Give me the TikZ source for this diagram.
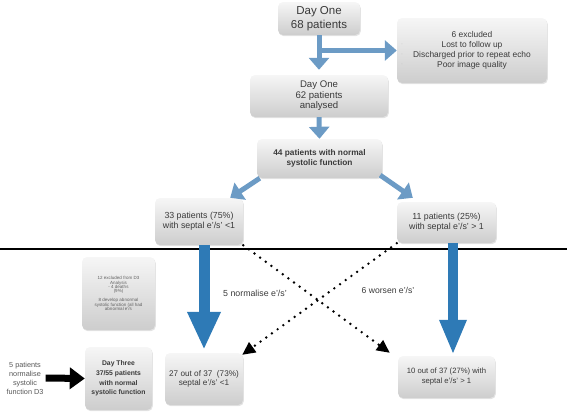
\documentclass[tikz,border=0pt]{standalone}
\usepackage{fontspec}
\setmainfont{Liberation Sans}
\usetikzlibrary{arrows.meta,shadows}
\definecolor{boxtop}{RGB}{246,246,246}
\definecolor{boxbot}{RGB}{205,205,205}
\definecolor{txtgray}{RGB}{58,58,58}
\definecolor{paleblue}{RGB}{108,155,197}
\definecolor{deepblue}{RGB}{46,122,182}
\tikzset{
    box/.style={rounded corners=5pt, top color=boxtop, bottom color=boxbot,
        drop shadow={opacity=0.22, shadow xshift=0.8pt, shadow yshift=-1.2pt},
        align=center, text=txtgray, inner sep=0pt},
    uparrow/.style={draw=paleblue, line width=5pt, -{Triangle[length=12pt,width=20pt]}},
    bigarrow/.style={draw=deepblue, line width=11pt, -{Triangle[length=38pt,width=31pt]}},
    dotarrow/.style={black, line width=2.7pt, line cap=round, dash pattern=on 0pt off 7pt,
        -{Triangle[length=13pt,width=12pt]}},
    lbl/.style={text=txtgray, align=center, inner sep=2pt}
}
\begin{document}
\begin{tikzpicture}[x=1pt, y=-1pt]
    \useasboundingbox (0, 0) rectangle (567, 415);
    \node[box, minimum width=82pt, minimum height=33pt, font=\fontsize{11.5}{13.5}\selectfont]
        (b1) at (319, 18.5) {Day One\\68 patients};
    \node[box, minimum width=150pt, minimum height=65pt, font=\fontsize{8.4}{10}\selectfont]
        (excl) at (472, 50.5) {6 excluded\\Lost to follow up\\Discharged prior to repeat echo\\Poor image quality};
    \foreach \i/\y in {1/45, 2/55, 3/65}
        \node[text=gray!60, font=\fontsize{4}{4}\selectfont, inner sep=0pt] (tick\i) at (402, \y) {-};
    \node[box, minimum width=138pt, minimum height=42pt, font=\fontsize{9.6}{10.6}\selectfont]
        (b62) at (319, 96) {Day One\\62 patients\\analysed};
    \node[box, minimum width=125pt, minimum height=39pt, font=\bfseries\fontsize{8.3}{10}\selectfont]
        (b44) at (319.5, 158.5) {44 patients with normal\\systolic function};
    \node[box, minimum width=88pt, minimum height=47pt, font=\fontsize{8.8}{10}\selectfont]
        (b33) at (199, 221.5) {33 patients (75\%)\\with septal e’/s’ <1};
    \node[box, minimum width=99pt, minimum height=41pt, font=\fontsize{8.8}{10}\selectfont]
        (b11) at (446.5, 222.5) {11 patients (25\%)\\with septal e’/s’ > 1};
    \node[box, minimum width=73pt, minimum height=73pt, text=txtgray!80, font=\fontsize{4.5}{4.4}\selectfont]
        (b12) at (118.5, 293.5) {12 excluded from D3\\Analysis\\- 4 deaths\\(9\%)\\[4.5pt]8 develop abnormal\\systolic function (all had\\abnormal e’/s};
    \node[box, minimum width=67pt, minimum height=63pt, font=\bfseries\fontsize{6.8}{9.7}\selectfont]
        (bd3) at (118.5, 378.5) {Day Three\\37/55 patients\\with normal\\systolic function};
    \node[box, minimum width=78pt, minimum height=52pt, font=\fontsize{8.2}{9.4}\selectfont]
        (b27) at (204, 379) {27 out of 37~~(73\%)\\septal e’/s’ <1};
    \node[box, minimum width=97pt, minimum height=42pt, font=\fontsize{7.7}{10}\selectfont]
        (b10) at (446.5, 377) {10 out of 37 (27\%) with\\septal e’/s’ > 1};
    \node[lbl, text=txtgray!85, font=\fontsize{7.3}{9}\selectfont]
        (note) at (25, 378) {5 patients\\normalise\\systolic\\function D3};
    \node[lbl, font=\fontsize{8.8}{10}\selectfont] (normlbl) at (255, 293) {5 normalise e’/s’};
    \node[lbl, font=\fontsize{8.6}{10}\selectfont] (worslbl) at (388, 290) {6 worsen e’/s’};
    \coordinate (split) at (b1.south |- excl.west);
    \draw[uparrow, shorten >=5pt] (b1.south) -- (b62.north);
    \draw[uparrow] (split) -- (excl.west);
    \draw[uparrow] (b62.south) -- (b44.north);
    \draw[uparrow] ([xshift=3pt]b44.south west) -- ([xshift=-13pt]b33.north east);
    \draw[uparrow] ([xshift=-2pt,yshift=3pt]b44.south east) -- ([xshift=16pt,yshift=4pt]b11.north west);
    \draw[line width=1.8pt] (0, 249) -- (567, 249);
    \draw[bigarrow, shorten >=3pt] (b33.south -| b27.north) -- (b27.north);
    \draw[bigarrow, line width=10pt, -{Triangle[length=35pt,width=25pt]}, shorten >=1pt]
        ([xshift=6.5pt]b11.south) -- ([xshift=6.5pt]b10.north);
    \draw[dotarrow] (b33.south east) -- ([xshift=-8pt,yshift=3pt]b10.north west);
    \draw[dotarrow] (b11.south west) -- ([xshift=-1pt,yshift=-2pt]b27.north east);
    \draw[black, line width=7pt, -{Triangle[length=15pt,width=21pt]}] (note.east) -- (bd3.west);
\end{tikzpicture}
\end{document}
